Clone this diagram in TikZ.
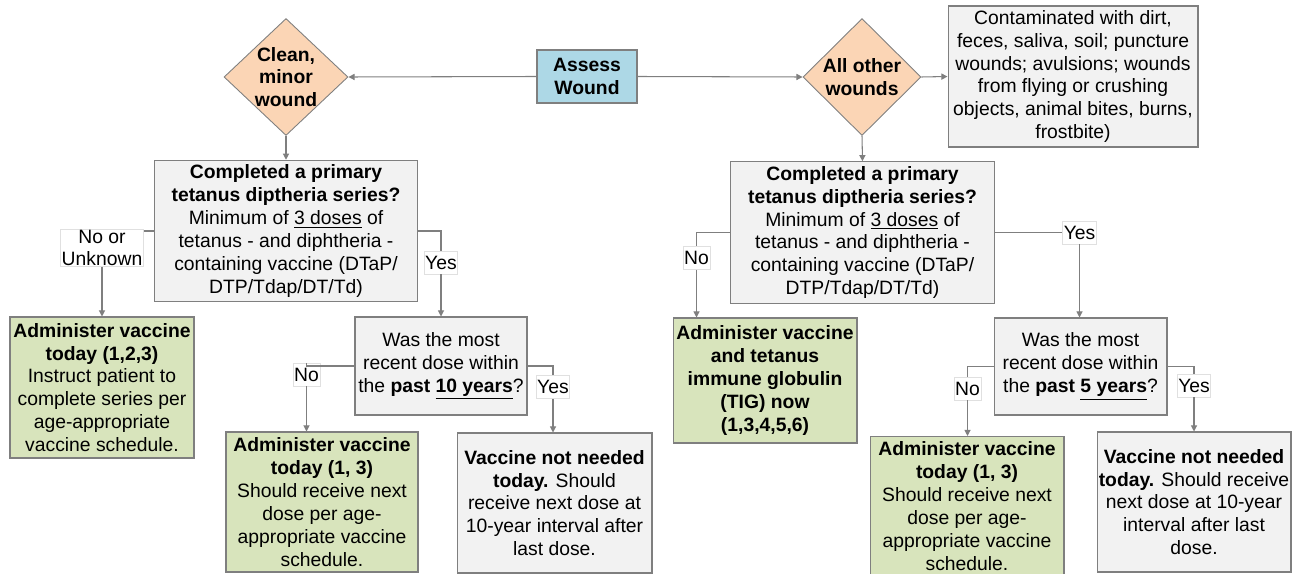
\documentclass[tikz,border=0pt]{standalone}
\usepackage{fontspec}
\setmainfont{Liberation Sans}
\usetikzlibrary{shapes.geometric,arrows.meta}
\definecolor{boxgray}{HTML}{F2F2F2}
\definecolor{boxgreen}{HTML}{D8E4BC}
\definecolor{boxblue}{HTML}{ADD8E6}
\definecolor{boxpeach}{HTML}{FBD5B5}
\definecolor{edgegray}{HTML}{7F7F7F}
\tikzset{
    txt/.style={font=\fontsize{11}{13}\selectfont},
    btxt/.style={font=\fontsize{11}{13}\selectfont\bfseries},
    wh/.style 2 args={minimum width=#1, minimum height=#2},
    box/.style={draw=edgegray, line width=0.6pt, inner sep=0pt, align=center, txt},
    graybox/.style={box, fill=boxgray},
    greenbox/.style={box, fill=boxgreen},
    dia/.style={shape=diamond, draw=edgegray, line width=0.5pt, fill=boxpeach, inner sep=0pt},
    lbl/.style={draw=black!12, fill=white, inner xsep=0.6pt, inner ysep=0pt, minimum height=0.46cm, align=center, txt},
    conn/.style={draw=edgegray, line width=0.6pt},
    arr/.style={conn, -{Triangle[length=3.5pt,width=3.5pt]}}
}
\begin{document}
\begin{tikzpicture}[x=0.02cm, y=-0.02cm]
        \useasboundingbox (0,0) rectangle (1297,574);
        \node[box, fill=boxblue, wh={2cm}{1.06cm}, btxt] (assess) at (587,76.5) {Assess\\Wound};
        \node[dia, wh={2.48cm}{2.34cm}, label={[btxt, align=center]center:{Clean,\\minor\\wound}}] (clean) at (286,77) {};
        \node[dia, wh={2.36cm}{2.34cm}, label={[btxt, align=center]center:{All other\\wounds}}] (other) at (862,77) {};
        \node[graybox, wh={5cm}{2.82cm}] (contam) at (1073,76.5) {Contaminated with dirt,\\feces, saliva, soil; puncture\\wounds; avulsions; wounds\\from flying or crushing\\objects, animal bites, burns,\\frostbite)};
        \foreach \nm/\x/\y in {seriesL/286/231, seriesR/862.5/232.5}{
            \node[graybox, wh={5.27cm}{2.83cm}] (\nm) at (\x,\y) {\textbf{Completed a primary}\\\textbf{tetanus diptheria series?}\\Minimum of \underline{3 doses} of\\tetanus - and diphtheria -\\containing vaccine (DTaP/\\DTP/Tdap/DT/Td)};
        }
        \node[greenbox, wh={3.68cm}{2.82cm}] (adminL) at (102,387.5) {\textbf{Administer vaccine}\\\textbf{today (1,2,3)}\\Instruct patient to\\complete series per\\age-appropriate\\vaccine schedule.};
        \node[graybox, wh={3.44cm}{1.96cm}] (recentL) at (441,366) {Was the most\\recent dose within\\the \textbf{past \underline{10 years}}?};
        \node[greenbox, wh={3.84cm}{2.8cm}] (boostL) at (322,502) {\textbf{Administer vaccine}\\\textbf{today (1, 3)}\\Should receive next\\dose per age-\\appropriate vaccine\\schedule.};
        \node[graybox, wh={3.9cm}{2.8cm}] (skipL) at (554.5,503) {\textbf{Vaccine not needed}\\\textbf{today.} Should\\receive next dose at\\10-year interval after\\last dose.};
        \node[greenbox, wh={3.68cm}{2.5cm}, btxt] (tigR) at (765,380.5) {Administer vaccine\\and tetanus\\immune globulin\\(TIG) now\\(1,3,4,5,6)};
        \node[graybox, wh={3.46cm}{1.94cm}] (recentR) at (1080.5,366.5) {Was the most\\recent dose within\\the \textbf{past \underline{5 years}}?};
        \node[greenbox, wh={3.88cm}{2.78cm}] (boostR) at (967,506) {\textbf{Administer vaccine}\\\textbf{today (1, 3)}\\Should receive next\\dose per age-\\appropriate vaccine\\schedule.};
        \node[graybox, wh={3.88cm}{2.8cm}] (skipR) at (1194,502) {\textbf{Vaccine not needed}\\\textbf{today.} Should receive\\next dose at 10-year\\interval after last\\dose.};
        \foreach \nm/\x/\y/\lab in {noA/102/248/No or\\Unknown, yesA/441/262.5/Yes, noB/306.5/374.5/No, yesB/553/387/Yes, noC/696.5/258/No, yesC/1079.5/232.5/Yes, noD/967.5/388.5/No, yesD/1194/385.5/Yes}{
            \node[lbl] (\nm) at (\x,\y) {\lab};
        }
        \draw[arr] (assess.west) -- (clean.east);
        \draw[arr] (assess.east) -- (other.west);
        \draw[arr] (other.east) -- (contam.west);
        \draw[arr] (clean.south) -- (seriesL.north);
        \draw[arr] (other.south) -- (seriesR.north);
        \draw[conn] (seriesL.west) -- (seriesL.west -| noA.east);
        \draw[arr] (noA.south) -- (noA.south |- adminL.north);
        \draw[conn] (seriesL.east) -| (yesA.north);
        \draw[arr] (yesA.south) -- (yesA.south |- recentL.north);
        \draw[conn] (recentL.west) -| (noB.north);
        \draw[arr] (noB.south) -- (noB.south |- boostL.north);
        \draw[conn] (recentL.east) -| (yesB.north);
        \draw[arr] (yesB.south) -- (yesB.south |- skipL.north);
        \draw[conn] (seriesR.west) -| (noC.north);
        \draw[arr] (noC.south) -- (noC.south |- tigR.north);
        \draw[conn] (seriesR.east) -- (yesC.west);
        \draw[arr] (yesC.south) -- (yesC.south |- recentR.north);
        \draw[conn] (recentR.west) -| (noD.north);
        \draw[arr] (noD.south) -- (noD.south |- boostR.north);
        \draw[conn] (recentR.east) -| (yesD.north);
        \draw[arr] (yesD.south) -- (yesD.south |- skipR.north);
    \end{tikzpicture}
\end{document}
